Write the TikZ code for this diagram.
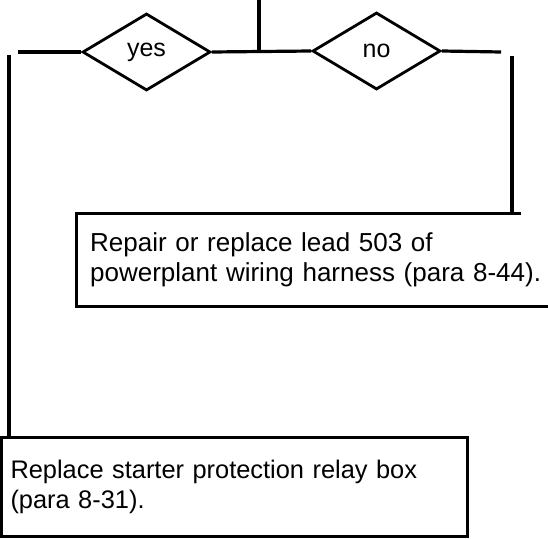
\documentclass[tikz,border=0pt]{standalone}
\usepackage{fontspec}
\setmainfont{Liberation Sans}
\usetikzlibrary{shapes.geometric,calc}
\newcommand\boxfont{\fontsize{26}{30}\selectfont}
\newcommand\boxfontb{\fontsize{25.4}{30}\selectfont}
\newcommand\decfont{\fontsize{25}{28}\selectfont}
\begin{document}
\begin{tikzpicture}[x=1pt,y=-1pt,
  conn/.style={line width=3.2pt},
  dec/.style={diamond,draw,line width=2.8pt,minimum width=128pt,minimum height=77pt,inner sep=0pt,aspect=1.66,font=\decfont},
  boxtext/.style={align=left,inner ysep=0pt}]
\useasboundingbox (0,0) rectangle (548,538);
% decisions
\node[dec] (yes) at (146.5,52) {yes};
\node[dec] (no) at (376.5,51) {no};
\coordinate (top) at (259,0);
\coordinate (lstub) at (18,52);
\coordinate (rstub) at (501,52);
\coordinate (lv) at (9,55);
\coordinate (rv) at (512,56);
% boxes
\node[boxtext,font=\boxfontb,draw,line width=3pt,anchor=north west,minimum width=466pt,minimum height=99pt,text width=448pt,inner xsep=8pt] (b3) at (0,436)
  {Replace starter protection relay box\\(para 8-31).};
\node[boxtext,font=\boxfont,anchor=north west,minimum width=472pt,minimum height=93pt,text width=455pt,inner xsep=14pt] (b2) at (76,213)
  {Repair or replace lead 503 of\\powerplant wiring harness (para 8-44).};
\draw[line width=3pt] ($(b2.north west)+(445,0)$) -- (b2.north west) -- (b2.south west) -- (b2.south east);
% connectors
\draw[conn] (top) -- (top |- yes.east);
\draw[conn] (yes.east) -- (no.west);
\draw[conn] (yes.west) -- (lstub);
\draw[conn] (no.east) -- (rstub);
\draw[conn] (lv) -- (lv |- b3.north);
\draw[conn] (rv) -- (rv |- b2.north);
\end{tikzpicture}
\end{document}
